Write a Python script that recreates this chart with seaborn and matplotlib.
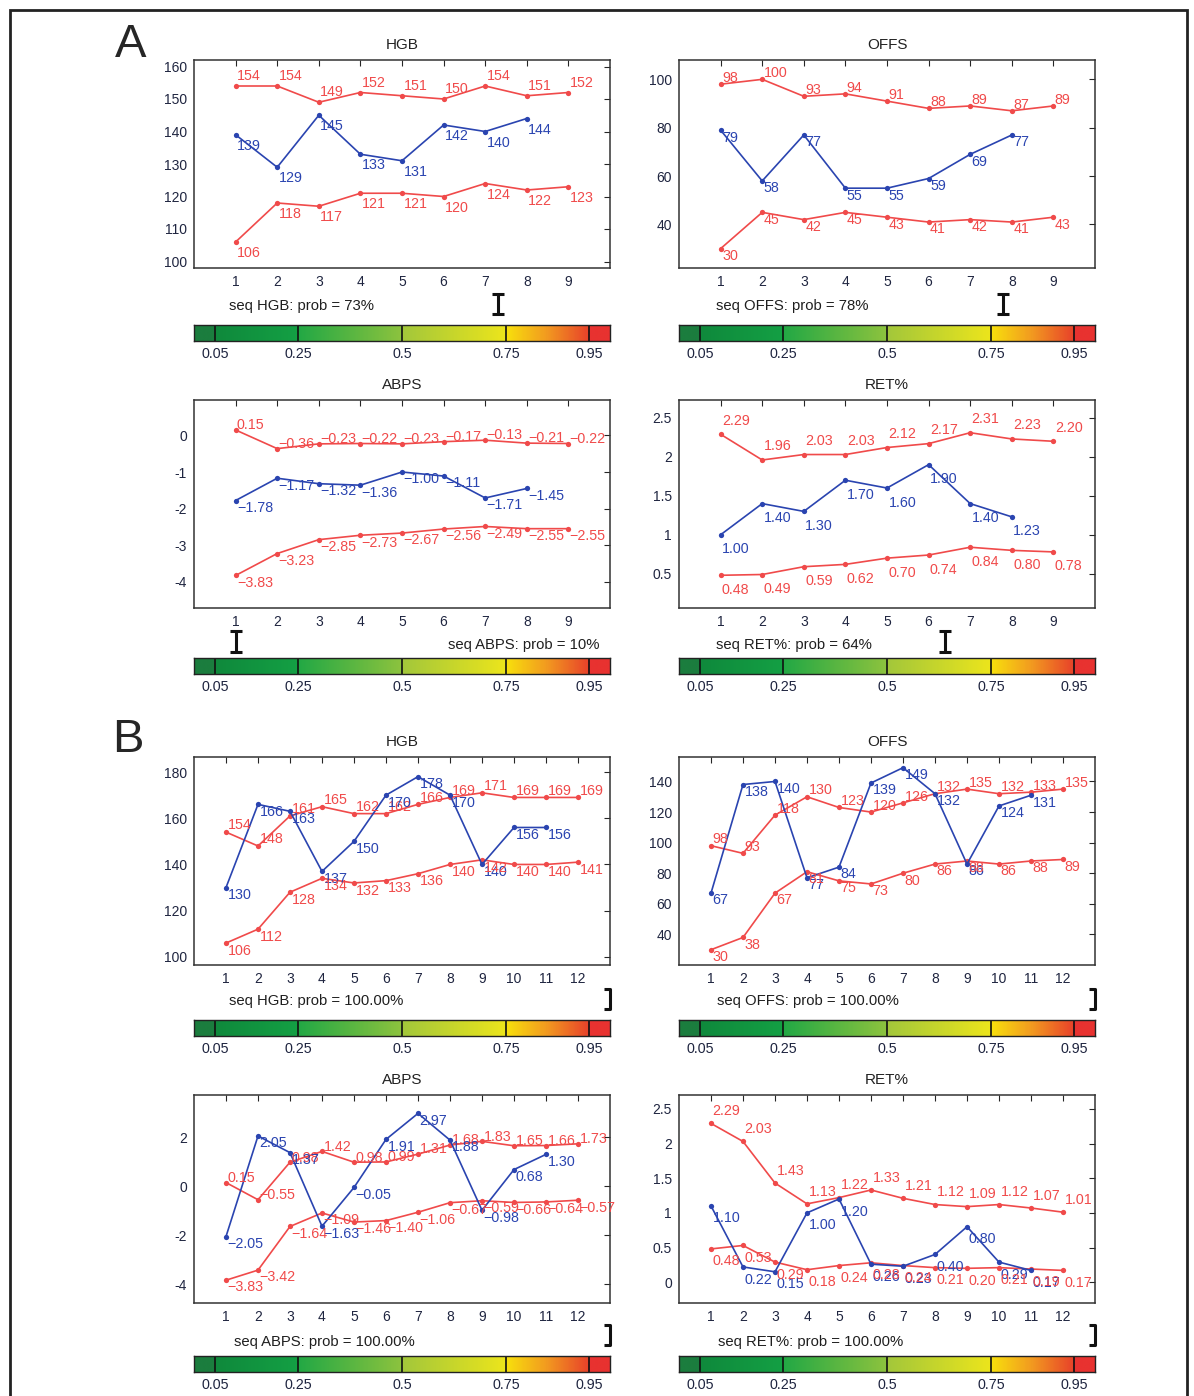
import numpy as np
import pandas as pd
import matplotlib.pyplot as plt
import seaborn as sns
from matplotlib.colors import LinearSegmentedColormap
from matplotlib.patches import Rectangle

W, H = 1194, 1396

# ---- data: panel A (9 steps, sequence has 8) ----
a_hgb_hi = [154, 154, 149, 152, 151, 150, 154, 151, 152]
a_hgb_seq = [139, 129, 145, 133, 131, 142, 140, 144]
a_hgb_lo = [106, 118, 117, 121, 121, 120, 124, 122, 123]

a_offs_hi = [98, 100, 93, 94, 91, 88, 89, 87, 89]
a_offs_seq = [79, 58, 77, 55, 55, 59, 69, 77]
a_offs_lo = [30, 45, 42, 45, 43, 41, 42, 41, 43]

a_abps_hi = [0.15, -0.36, -0.23, -0.22, -0.23, -0.17, -0.13, -0.21, -0.22]
a_abps_seq = [-1.78, -1.17, -1.32, -1.36, -1.00, -1.11, -1.71, -1.45]
a_abps_lo = [-3.83, -3.23, -2.85, -2.73, -2.67, -2.56, -2.49, -2.55, -2.55]

a_ret_hi = [2.29, 1.96, 2.03, 2.03, 2.12, 2.17, 2.31, 2.23, 2.20]
a_ret_seq = [1.00, 1.40, 1.30, 1.70, 1.60, 1.90, 1.40, 1.23]
a_ret_lo = [0.48, 0.49, 0.59, 0.62, 0.70, 0.74, 0.84, 0.80, 0.78]

# ---- data: panel B (12 steps, sequence has 11) ----
b_hgb_hi = [154, 148, 161, 165, 162, 162, 166, 169, 171, 169, 169, 169]
b_hgb_seq = [130, 166, 163, 137, 150, 170, 178, 170, 140, 156, 156]
b_hgb_lo = [106, 112, 128, 134, 132, 133, 136, 140, 142, 140, 140, 141]

b_offs_hi = [98, 93, 118, 130, 123, 120, 126, 132, 135, 132, 133, 135]
b_offs_seq = [67, 138, 140, 77, 84, 139, 149, 132, 86, 124, 131]
b_offs_lo = [30, 38, 67, 81, 75, 73, 80, 86, 88, 86, 88, 89]

b_abps_hi = [0.15, -0.55, 0.98, 1.42, 0.98, 0.99, 1.31, 1.68, 1.83, 1.65, 1.66, 1.73]
b_abps_seq = [-2.05, 2.05, 1.37, -1.63, -0.05, 1.91, 2.97, 1.88, -0.98, 0.68, 1.30]
b_abps_lo = [-3.83, -3.42, -1.64, -1.09, -1.46, -1.40, -1.06, -0.67, -0.59, -0.66, -0.64, -0.57]

b_ret_hi = [2.29, 2.03, 1.43, 1.13, 1.22, 1.33, 1.21, 1.12, 1.09, 1.12, 1.07, 1.01]
b_ret_seq = [1.10, 0.22, 0.15, 1.00, 1.20, 0.26, 0.23, 0.40, 0.80, 0.29, 0.17]
b_ret_lo = [0.48, 0.53, 0.29, 0.18, 0.24, 0.28, 0.24, 0.21, 0.20, 0.21, 0.19, 0.17]

probs = [0.73, 0.78, 0.10, 0.64, 1.0, 1.0, 1.0, 1.0]
prob_texts = ["73%", "78%", "10%", "64%", "100.00%", "100.00%", "100.00%", "100.00%"]
cbar_ticks = [0.05, 0.25, 0.5, 0.75, 0.95]

RED = "#f04a4a"
BLUE = "#2a44b0"
TICKC = "#1f2540"

sns.set_style("white")
plt.rcParams["font.family"] = ["Liberation Sans", "DejaVu Sans"]
plt.rcParams["axes.unicode_minus"] = False

fig = plt.figure(figsize=(W / 100, H / 100), dpi=100)


def box(left, top, width, height):
    return [left / W, 1 - (top + height) / H, width / W, height / H]


# colour scale of the probability bar
cmap = LinearSegmentedColormap.from_list("prob", [
    (0.0, "#1b7d3e"), (0.0499, "#1b7d3e"),
    (0.05, "#0f893c"), (0.2499, "#14a044"),
    (0.25, "#22a845"), (0.4999, "#8dc33e"),
    (0.5, "#a2c73b"), (0.7499, "#ece51c"),
    (0.75, "#f8e20c"), (0.85, "#f29a20"), (0.9499, "#e8432a"),
    (0.95, "#e83230"), (1.0, "#e83230"),
])

panels = [
    # name, hi, seq, lo, ylim, yticks, fmt, col, row, up_off, dn_off
    ("HGB", a_hgb_hi, a_hgb_seq, a_hgb_lo, (98, 162), [100, 110, 120, 130, 140, 150, 160], "{:.0f}", 0, 0, 4.3, 3.0),
    ("OFFS", a_offs_hi, a_offs_seq, a_offs_lo, (22, 108), [40, 60, 80, 100], "{:.0f}", 1, 0, 1.5, 0.3),
    ("ABPS", a_abps_hi, a_abps_seq, a_abps_lo, (-4.72, 0.97), [-4, -3, -2, -1, 0], "{:.2f}", 0, 1, 0.7, 0.3),
    ("RET%", a_ret_hi, a_ret_seq, a_ret_lo, (0.06, 2.73), [0.5, 1, 1.5, 2, 2.5], "{:.2f}", 1, 1, 7.0, 5.4),
    ("HGB", b_hgb_hi, b_hgb_seq, b_hgb_lo, (96.5, 186.5), [100, 120, 140, 160, 180], "{:.0f}", 0, 2, 2.0, 0.5),
    ("OFFS", b_offs_hi, b_offs_seq, b_offs_lo, (20, 156), [40, 60, 80, 100, 120, 140], "{:.0f}", 1, 2, 1.7, 0.2),
    ("ABPS", b_abps_hi, b_abps_seq, b_abps_lo, (-4.76, 3.72), [-4, -2, 0, 2], "{:.2f}", 0, 3, 0.5, 0.2),
    ("RET%", b_ret_hi, b_ret_seq, b_ret_lo, (-0.3, 2.7), [0, 0.5, 1, 1.5, 2, 2.5], "{:.2f}", 1, 3, 6.0, 4.0),
]

col_left = [194, 679]
row_top = [60, 400, 757, 1095]
row_cbar = [325, 658, 1020, 1356]
seq_y = [306, 645, 1001, 1342]
seq_x = [[229, 716], [600, 716], [229, 717], [234, 718]]
AX_W, AX_H = 416, 208


def fmt_label(fmt, v):
    return fmt.format(v).replace("-", "\u2212")


for i, (name, hi, seq, lo, ylim, yticks, fmt, c, r, up_off, dn_off) in enumerate(panels):
    ax = fig.add_axes(box(col_left[c], row_top[r], AX_W, AX_H))
    n = len(hi)
    steps = list(range(1, n + 1))
    df = pd.DataFrame({"step": steps, "hi": hi, "lo": lo,
                       "seq": seq + [np.nan] * (n - len(seq))})
    for col, color in [("hi", RED), ("lo", RED), ("seq", BLUE)]:
        sns.lineplot(data=df, x="step", y=col, ax=ax, color=color, marker="o",
                     markersize=3.8, markeredgewidth=0, linewidth=1.2)

    # value labels
    for col, color in [("hi", RED), ("seq", BLUE), ("lo", RED)]:
        for x, v in zip(df["step"], df[col]):
            if np.isnan(v):
                continue
            if col == "hi":
                ax.annotate(fmt_label(fmt, v), (x, v), xytext=(1, up_off),
                            textcoords="offset points", ha="left", va="baseline",
                            color=color, fontsize=10.3)
            else:
                ax.annotate(fmt_label(fmt, v), (x, v), xytext=(1, -dn_off),
                            textcoords="offset points", ha="left", va="top",
                            color=color, fontsize=10.3)

    ax.set_xlim(0, n + 1)
    ax.set_ylim(*ylim)
    ax.set_xticks(steps)
    ax.set_yticks(yticks)
    ax.set_yticklabels([("{:g}".format(t)) for t in yticks])
    ax.set_xlabel("")
    ax.set_ylabel("")
    ax.set_title(name, fontsize=11, pad=8, color="#222")
    ax.tick_params(direction="in", top=True, right=True, length=4, width=0.8,
                   labelsize=10, labelcolor=TICKC, pad=5)
    for s in ax.spines.values():
        s.set_color("#333")
        s.set_linewidth(1.1)

    # probability bar
    left = col_left[c]
    cax = fig.add_axes(box(left, row_cbar[r], AX_W, 16))
    cax.imshow(np.linspace(0, 1, 600)[None, :], aspect="auto", cmap=cmap,
               extent=[0, 1, 0, 1])
    for t in cbar_ticks:
        cax.axvline(t, color="#111", lw=1.2)
    cax.set_xlim(0, 1)
    cax.set_ylim(0, 1)
    cax.set_yticks([])
    cax.set_xticks(cbar_ticks)
    cax.set_xticklabels(["{:g}".format(t) for t in cbar_ticks])
    cax.tick_params(length=0, labelsize=10.3, labelcolor=TICKC, pad=4)
    for s in cax.spines.values():
        s.set_color("#222")
        s.set_linewidth(1.0)

    # marker showing the probability
    p = probs[i]
    hw = 6 / AX_W
    y0, y1 = (1.4, 2.7) if r == 1 else (1.7, 2.95)
    cax.plot([p, p], [y0, y1], color="#111", lw=2.2, clip_on=False)
    for yy in (y0, y1):
        cax.plot([max(0, p - hw), min(1, p + hw)], [yy, yy], color="#111",
                 lw=2.2, clip_on=False, solid_capstyle="butt")

    text = "seq {}: prob = {}".format(name, prob_texts[i])
    tx = seq_x[r][c]
    ha = "right" if (r == 1 and c == 0) else "left"
    fig.text(tx / W, 1 - seq_y[r] / H, text, ha=ha, va="center",
             fontsize=10.7, color="#1f1f1f")

fig.text(131 / W, 1 - 45 / H, "A", fontsize=34, ha="center", va="center")
fig.text(128 / W, 1 - 740 / H, "B", fontsize=34, ha="center", va="center")

fig.add_artist(Rectangle((10 / W, -0.01), (1187 - 10) / W, (H - 10) / H + 0.01,
                         fill=False, lw=2, edgecolor="#222",
                         transform=fig.transFigure))

fig.savefig("out.png", dpi=100)
